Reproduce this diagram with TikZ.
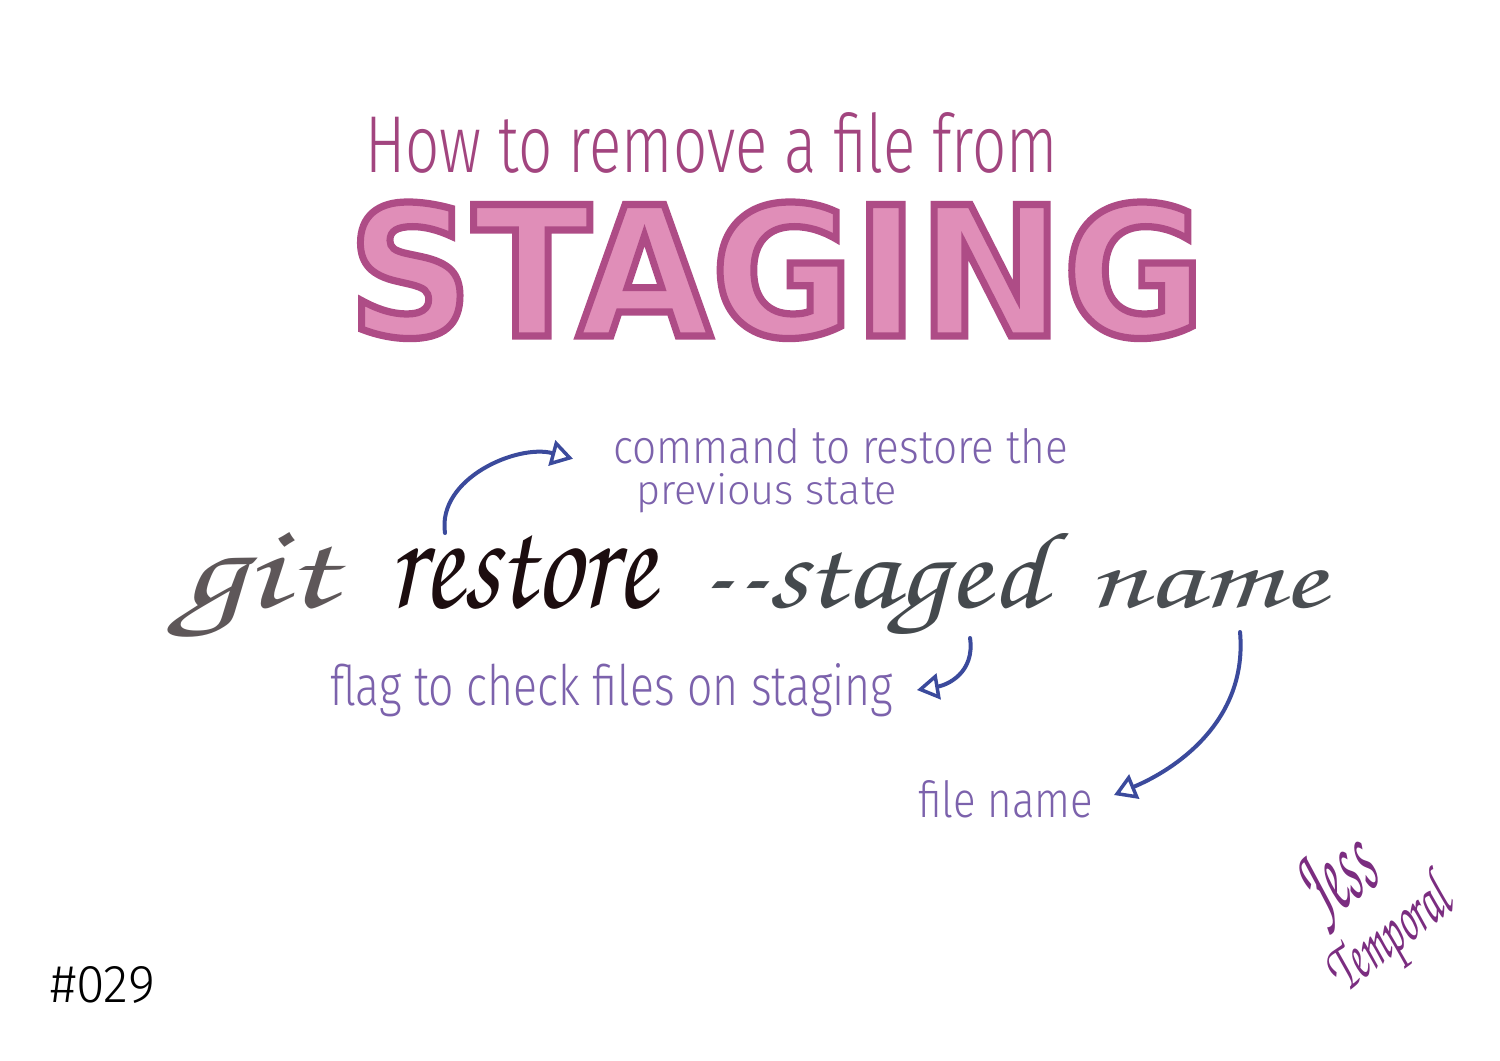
\documentclass[tikz,border=0pt]{standalone}
\usepackage{fontspec}
\usepackage{graphicx}
\usetikzlibrary{arrows.meta,calc}
\newfontfamily\handfont{Fira Sans Light}
\newfontfamily\cursivefont{TeX Gyre Chorus}
\newfontfamily\blockfont{DejaVu Sans Bold}[FakeBold=4]
\definecolor{titlepink}{HTML}{A2457F}
\definecolor{blockfill}{HTML}{E08EB8}
\definecolor{blockline}{HTML}{AE4C86}
\definecolor{notepurple}{HTML}{7C62AC}
\definecolor{arrowblue}{HTML}{3B4A9C}
\definecolor{gitgray}{HTML}{5E5759}
\definecolor{restoreblack}{HTML}{1C0D0F}
\definecolor{stagedgray}{HTML}{44494D}
\definecolor{namegray}{HTML}{4A4E52}
\definecolor{signpurple}{HTML}{7B2D80}
\newlength{\unitpx}
\setlength{\unitpx}{0.1mm}
\newcommand{\fitpx}[3]{\resizebox{#1\unitpx}{#2\unitpx}{#3}}
% fill and outline colour of the block letters
\newcommand{\blockcolors}{\special{pdf:bcolor [0.878 0.557 0.722] [0.682 0.298 0.525]}}

\begin{document}
\begin{tikzpicture}[
  x=0.1mm, y=-0.1mm,
  txt/.style={inner sep=0pt, outer sep=0pt, anchor=base west},
  note/.style={txt, text=notepurple, font=\handfont},
  cmd/.style={txt, font=\cursivefont},
  arr/.style={-{Triangle[open, length=2.2mm, width=2.6mm, line width=0.35mm]},
              line width=0.4mm, draw=arrowblue, line cap=round}
]
\useasboundingbox (0,0) rectangle (1500,1060);
\fill[white] (0,0) rectangle (1500,1060);
% heading
\node[txt, text=titlepink, font=\handfont] (title) at (365,172)
  {\fitpx{693}{60}{How to remove a file from}};
\node[txt, text=blockfill] (staging) at (348,336)
  {\fitpx{857}{134}{\blockcolors\blockfont STAGING\special{pdf:ecolor}}};
% the command
\node[cmd, text=gitgray] (git) at (180,607) {\fitpx{155}{75}{git}};
\node[cmd, text=restoreblack] (restore) at (388,607) {\fitpx{267}{72}{\bfseries restore}};
\node[cmd, text=stagedgray] (staged) at (697,607) {\fitpx{348}{74}{-{}-staged}};
\node[cmd, text=namegray] (name) at (1087,607) {\fitpx{238}{37}{name}};
% notes
\node[note] (command) at (613,463) {\fitpx{455}{35}{command to restore the}};
\node[note] (previous) at (636,504) {\fitpx{261}{31}{previous state}};
\node[note] (flag) at (330,705) {\fitpx{563}{42}{flag to check files on staging}};
\node[note] (filename) at (918,817) {\fitpx{175}{37}{file name}};
\draw[arr] ($(restore.north west)+(57,-2)$)
  .. controls +(-8,-55) and +(-55,-15) .. ($(command.west)+(-40,13)$);
\draw[arr] ($(staged.base east)+(-75,31)$)
  .. controls +(5,35) and +(30,-5) .. ($(flag.base east)+(24,-15)$);
\draw[arr] ($(name.base east)+(-85,25)$)
  .. controls +(8,90) and +(60,-25) .. ($(filename.base east)+(21,-22)$);
% footer
\node[txt, font=\handfont] (number) at (50,1002) {\fitpx{105}{36}{\#029}};
\node[cmd, text=signpurple, rotate=35] (jess) at (1322,924) {\fitpx{75}{65}{Jess}};
\node[cmd, text=signpurple, rotate=38] (temporal) at (1345,994) {\fitpx{140}{48}{Temporal}};
\end{tikzpicture}
\end{document}
